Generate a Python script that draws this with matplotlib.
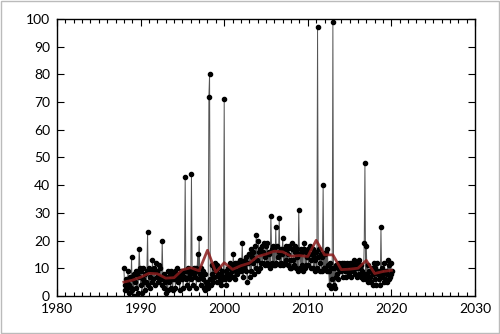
import numpy as np
import pandas as pd
import matplotlib
matplotlib.use("Agg")
import matplotlib.pyplot as plt
from matplotlib.patches import Rectangle
from matplotlib.ticker import MultipleLocator

plt.rcParams["font.family"] = ["Lato", "DejaVu Sans"]

# monthly values, one list per calendar year (Jan..Dec)
start_year = 1988
monthly = [
    [10, 4, 2, 6, 3, 5, 9, 1, 4, 7, 3, 14],          # 1988
    [2, 6, 0, 8, 5, 9, 3, 8, 1, 7, 17, 10],          # 1989
    [4, 9, 1, 6, 10, 5, 2, 8, 5, 9, 23, 4],          # 1990
    [10, 3, 7, 9, 5, 13, 6, 10, 4, 9, 12, 7],        # 1991
    [9, 5, 11, 7, 10, 6, 4, 20, 7, 3, 8, 5],         # 1992
    [7, 1, 6, 2, 9, 5, 8, 3, 9, 6, 2, 8],            # 1993
    [6, 9, 3, 8, 10, 7, 5, 8, 2, 7, 9, 6],           # 1994
    [8, 3, 7, 9, 43, 6, 9, 4, 10, 7, 3, 8],          # 1995
    [6, 44, 9, 4, 10, 8, 7, 10, 3, 9, 15, 6],        # 1996
    [21, 8, 4, 10, 7, 9, 6, 3, 8, 2, 5, 4],          # 1997
    [5, 3, 72, 80, 6, 4, 8, 11, 5, 10, 7, 12],       # 1998
    [9, 5, 11, 8, 10, 7, 5, 8, 4, 9, 6, 7],          # 1999
    [71, 6, 9, 4, 8, 7, 10, 6, 12, 8, 11, 9],        # 2000
    [7, 15, 10, 6, 12, 9, 12, 8, 11, 9, 13, 10],     # 2001
    [9, 12, 19, 7, 11, 10, 13, 9, 14, 5, 12, 15],    # 2002
    [15, 7, 17, 9, 14, 12, 16, 8, 18, 10, 22, 13],   # 2003
    [9, 20, 16, 10, 17, 12, 18, 12, 16, 19, 11, 14], # 2004
    [18, 12, 19, 11, 16, 15, 10, 29, 17, 12, 18, 11],# 2005
    [17, 11, 25, 12, 18, 14, 16, 28, 11, 17, 12, 15],# 2006
    [21, 11, 17, 12, 18, 13, 17, 11, 15, 18, 10, 13],# 2007
    [10, 19, 17, 13, 11, 18, 16, 10, 14, 17, 9, 31], # 2008
    [15, 10, 17, 11, 16, 9, 17, 19, 10, 16, 11, 14], # 2009
    [17, 11, 15, 18, 10, 13, 15, 17, 10, 14, 9, 13], # 2010
    [16, 10, 97, 14, 17, 9, 12, 15, 9, 14, 40, 10],  # 2011
    [15, 10, 16, 9, 17, 11, 9, 4, 12, 3, 10, 6],     # 2012
    [99, 4, 10, 3, 11, 7, 8, 10, 6, 12, 9, 10],      # 2013
    [9, 12, 7, 10, 12, 9, 10, 7, 12, 9, 11, 8],      # 2014
    [9, 12, 7, 10, 12, 9, 10, 13, 8, 11, 7, 10],     # 2015
    [12, 8, 13, 10, 7, 11, 9, 6, 8, 19, 48, 6],      # 2016
    [18, 8, 11, 5, 9, 7, 9, 5, 10, 4, 8, 12],        # 2017
    [6, 10, 4, 9, 12, 8, 6, 9, 4, 25, 7, 10],        # 2018
    [8, 5, 12, 6, 9, 5, 8, 13, 6, 11, 7, 12],        # 2019
    [8, 9],                                          # 2020
]

values = np.concatenate([np.array(v, dtype=float) for v in monthly])
t = np.concatenate([start_year + i + np.arange(len(v)) / 12.0
                    for i, v in enumerate(monthly)])

# yearly mean of the months within half a year of each year mark
df = pd.DataFrame({"t": t, "v": values})
df["yr"] = np.floor(df["t"] + 0.5).astype(int)
yearly = df.groupby("yr")["v"].mean()

fig = plt.figure(figsize=(5.0, 3.34), dpi=100)
ax = fig.add_axes([0.114, 0.114, 0.836, 0.829])

ax.plot(t, values, color="#555555", lw=0.7, zorder=2)
ax.plot(t, values, "o", color="black", ms=3.0, zorder=3)
ax.plot(yearly.index, yearly.values, color="#8b1c1c", lw=2.0, zorder=4, alpha=0.85)

ax.set_xlim(1980, 2030)
ax.set_ylim(0, 100)
ax.xaxis.set_major_locator(MultipleLocator(10))
ax.xaxis.set_minor_locator(MultipleLocator(1))
ax.yaxis.set_major_locator(MultipleLocator(10))
ax.tick_params(which="both", direction="in", top=True, right=True,
               labelsize=10, color="black", width=0.8)
ax.tick_params(which="major", length=5, pad=5)
ax.tick_params(which="minor", length=3)
for s in ax.spines.values():
    s.set_linewidth(1.0)

fig.patches.append(Rectangle((0.002, 0.003), 0.996, 0.994, transform=fig.transFigure,
                             fill=False, edgecolor="#bbbbbb", lw=1.0))

fig.savefig("out.png", dpi=100)
